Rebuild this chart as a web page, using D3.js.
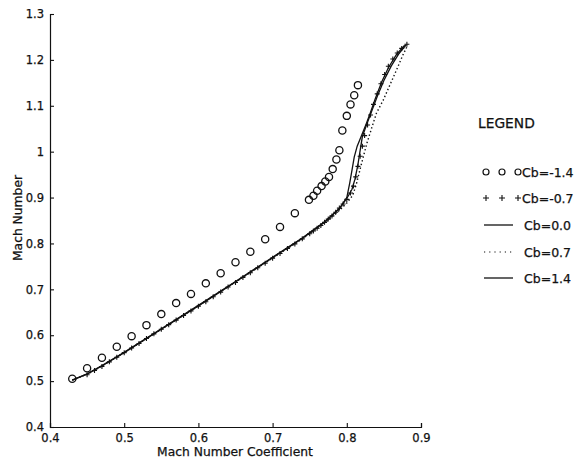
<!DOCTYPE html>
<html><head><meta charset="utf-8">
<script src="https://cdn.jsdelivr.net/npm/d3@7"></script>
<style>
html,body{margin:0;padding:0;background:#fff;}
svg{display:block;}
text{font-family:"DejaVu Sans",sans-serif;fill:#111;stroke:#111;stroke-width:0.25px;}
</style></head>
<body>
<svg id="chart" width="578" height="465"></svg>
<script>
// ---- data ----
const xTicks = [0.4, 0.5, 0.6, 0.7, 0.8, 0.9];
const yTicks = [0.4, 0.5, 0.6, 0.7, 0.8, 0.9, 1.0, 1.1, 1.2, 1.3];
const xTickLabels = ["0.4","0.5","0.6","0.7","0.8","0.9"];
const yTickLabels = ["0.4","0.5","0.6","0.7","0.8","0.9","1","1.1","1.2","1.3"];
const xTitle = "Mach Number Coefficient";
const yTitle = "Mach Number";
const legendTitle = "LEGEND";
const seriesNames = ["Cb=-1.4", "Cb=-0.7", "Cb=0.0", "Cb=0.7", "Cb=1.4"];

// Cb=-1.4 (circles)
const cbM14 = [[0.43,0.505],[0.45,0.528],[0.47,0.551],[0.49,0.575],[0.51,0.598],[0.53,0.622],[0.55,0.646],[0.57,0.670],[0.59,0.690],[0.61,0.713],[0.63,0.735],[0.65,0.759],[0.67,0.782],[0.69,0.809],[0.71,0.836],[0.73,0.866],[0.749,0.895],[0.755,0.904],[0.760,0.915],[0.766,0.925],[0.771,0.935],[0.776,0.945],[0.781,0.962],[0.786,0.983],[0.790,1.003],[0.794,1.046],[0.800,1.078],[0.805,1.103],[0.810,1.123],[0.815,1.145]];
// Cb=-0.7 (plus markers)
const cbM07 = [[0.45,0.514],[0.46,0.523],[0.47,0.532],[0.48,0.542],[0.49,0.552],[0.50,0.562],[0.51,0.572],[0.52,0.582],[0.53,0.593],[0.54,0.603],[0.55,0.613],[0.56,0.623],[0.57,0.633],[0.58,0.643],[0.59,0.653],[0.60,0.663],[0.61,0.673],[0.62,0.684],[0.63,0.694],[0.64,0.705],[0.65,0.715],[0.66,0.726],[0.67,0.736],[0.68,0.747],[0.69,0.757],[0.70,0.768],[0.71,0.778],[0.72,0.789],[0.73,0.799],[0.74,0.810],[0.75,0.821],[0.755,0.827],[0.76,0.833],[0.765,0.839],[0.77,0.846],[0.775,0.853],[0.78,0.860],[0.785,0.868],[0.79,0.877],[0.795,0.886],[0.80,0.896],[0.805,0.910],[0.809,0.925],[0.812,0.945],[0.815,0.968],[0.818,0.990],[0.821,1.012],[0.824,1.035],[0.828,1.058],[0.832,1.080],[0.836,1.103],[0.841,1.126],[0.846,1.148],[0.851,1.168],[0.856,1.186],[0.862,1.202],[0.868,1.215],[0.874,1.225],[0.881,1.234]];
// Cb=0.0 (solid)
const cb00 = [[0.43,0.502],[0.45,0.515],[0.47,0.533],[0.50,0.562],[0.55,0.613],[0.60,0.664],[0.65,0.716],[0.70,0.769],[0.74,0.811],[0.77,0.846],[0.79,0.876],[0.80,0.900],[0.804,0.932],[0.807,0.960],[0.810,0.988],[0.814,1.012],[0.820,1.036],[0.826,1.060],[0.832,1.086],[0.838,1.114],[0.847,1.152],[0.856,1.183],[0.867,1.212],[0.878,1.232]];
// Cb=0.7 (dotted)
const cb07 = [[0.43,0.502],[0.45,0.515],[0.47,0.533],[0.50,0.562],[0.55,0.613],[0.60,0.664],[0.65,0.716],[0.70,0.768],[0.74,0.810],[0.77,0.844],[0.79,0.872],[0.80,0.888],[0.808,0.905],[0.813,0.930],[0.820,0.975],[0.827,1.018],[0.834,1.054],[0.840,1.084],[0.849,1.112],[0.858,1.145],[0.867,1.178],[0.876,1.212],[0.882,1.232]];
// Cb=1.4 (solid)
const cb14 = [[0.43,0.502],[0.45,0.516],[0.47,0.534],[0.50,0.563],[0.55,0.614],[0.60,0.665],[0.65,0.717],[0.70,0.770],[0.74,0.812],[0.77,0.847],[0.79,0.876],[0.80,0.898],[0.807,0.918],[0.811,0.940],[0.815,0.972],[0.818,1.003],[0.821,1.033],[0.827,1.060],[0.834,1.090],[0.841,1.120],[0.850,1.155],[0.860,1.187],[0.870,1.213],[0.880,1.233]];

// ---- drawing ----
const svg = d3.select("#chart");
svg.append("rect").attr("width",578).attr("height",465).attr("fill","#fff");

const x = d3.scaleLinear().domain([0.4, 0.9]).range([50, 421]);
const y = d3.scaleLinear().domain([0.4, 1.3]).range([427, 14]);

// axes (left and bottom only, inward ticks)
const xAxis = d3.axisBottom(x).tickValues(xTicks).tickSize(-4).tickPadding(8)
  .tickFormat((d,i)=>xTickLabels[i]);
const yAxis = d3.axisLeft(y).tickValues(yTicks).tickSize(-4).tickPadding(5)
  .tickFormat((d,i)=>yTickLabels[i]);

const gx = svg.append("g").attr("transform","translate(0,427)").call(xAxis);
const gy = svg.append("g").attr("transform","translate(50,0)").call(yAxis);
[gx, gy].forEach(g=>{
  g.select(".domain").attr("stroke","#111").attr("stroke-width",1.2);
  g.selectAll(".tick line").attr("stroke","#111").attr("stroke-width",1.1);
  g.selectAll(".tick text").attr("font-family","DejaVu Sans, sans-serif")
    .attr("font-size","11.5px").attr("fill","#111");
});
gx.selectAll(".tick text").attr("dy","0.6em");
gy.selectAll(".tick text").attr("dx","-1");

// axis titles
svg.append("text").attr("x",235).attr("y",456).attr("text-anchor","middle")
  .attr("font-size","12.3px").text(xTitle);
svg.append("text").attr("transform","translate(22,218) rotate(-90)")
  .attr("text-anchor","middle").attr("font-size","12.3px").text(yTitle);

const line = d3.line().x(d=>x(d[0])).y(d=>y(d[1]));

// lines
svg.append("path").datum(cb07).attr("d",line).attr("fill","none")
  .attr("stroke","#111").attr("stroke-width",1.4).attr("stroke-dasharray","1.4,2.4");
svg.append("path").datum(cb00).attr("d",line).attr("fill","none")
  .attr("stroke","#111").attr("stroke-width",1.3);
svg.append("path").datum(cb14).attr("d",line).attr("fill","none")
  .attr("stroke","#111").attr("stroke-width",1.3);

// plus markers
const plusPath = "M-2.5,0H2.5M0,-2.5V2.5";
svg.append("g").selectAll("path").data(cbM07).join("path")
  .attr("transform",d=>`translate(${x(d[0])},${y(d[1])})`)
  .attr("d",plusPath).attr("stroke","#111").attr("stroke-width",1.1).attr("fill","none");

// circles
svg.append("g").selectAll("circle").data(cbM14).join("circle")
  .attr("cx",d=>x(d[0])).attr("cy",d=>y(d[1])).attr("r",3.6)
  .attr("fill","none").attr("stroke","#111").attr("stroke-width",1.3);

// legend
svg.append("text").attr("x",478).attr("y",128).attr("font-size","13.8px").text(legendTitle);
const rowY = [172, 198, 225, 252, 278];
const textX = 522;
// row 0: circles
[486, 502, 518].forEach(cx=>{
  svg.append("circle").attr("cx",cx).attr("cy",rowY[0]).attr("r",3)
    .attr("fill","none").attr("stroke","#111").attr("stroke-width",1.2);
});
// row 1: pluses
[486, 502, 518].forEach(cx=>{
  svg.append("path").attr("transform",`translate(${cx},${rowY[1]})`)
    .attr("d","M-3,0H3M0,-3V3").attr("stroke","#111").attr("stroke-width",1.1);
});
// row 2: solid
svg.append("line").attr("x1",484).attr("x2",513).attr("y1",rowY[2]).attr("y2",rowY[2])
  .attr("stroke","#111").attr("stroke-width",1.3);
// row 3: dotted
svg.append("line").attr("x1",484).attr("x2",513).attr("y1",rowY[3]).attr("y2",rowY[3])
  .attr("stroke","#111").attr("stroke-width",1.2).attr("stroke-dasharray","1.2,4");
// row 4: solid
svg.append("line").attr("x1",484).attr("x2",513).attr("y1",rowY[4]).attr("y2",rowY[4])
  .attr("stroke","#111").attr("stroke-width",1.3);
seriesNames.forEach((n,i)=>{
  svg.append("text").attr("x", i<2 ? textX : textX+2).attr("y",rowY[i]+4.5)
    .attr("font-size","12.5px").text(n);
});
</script>
</body></html>
